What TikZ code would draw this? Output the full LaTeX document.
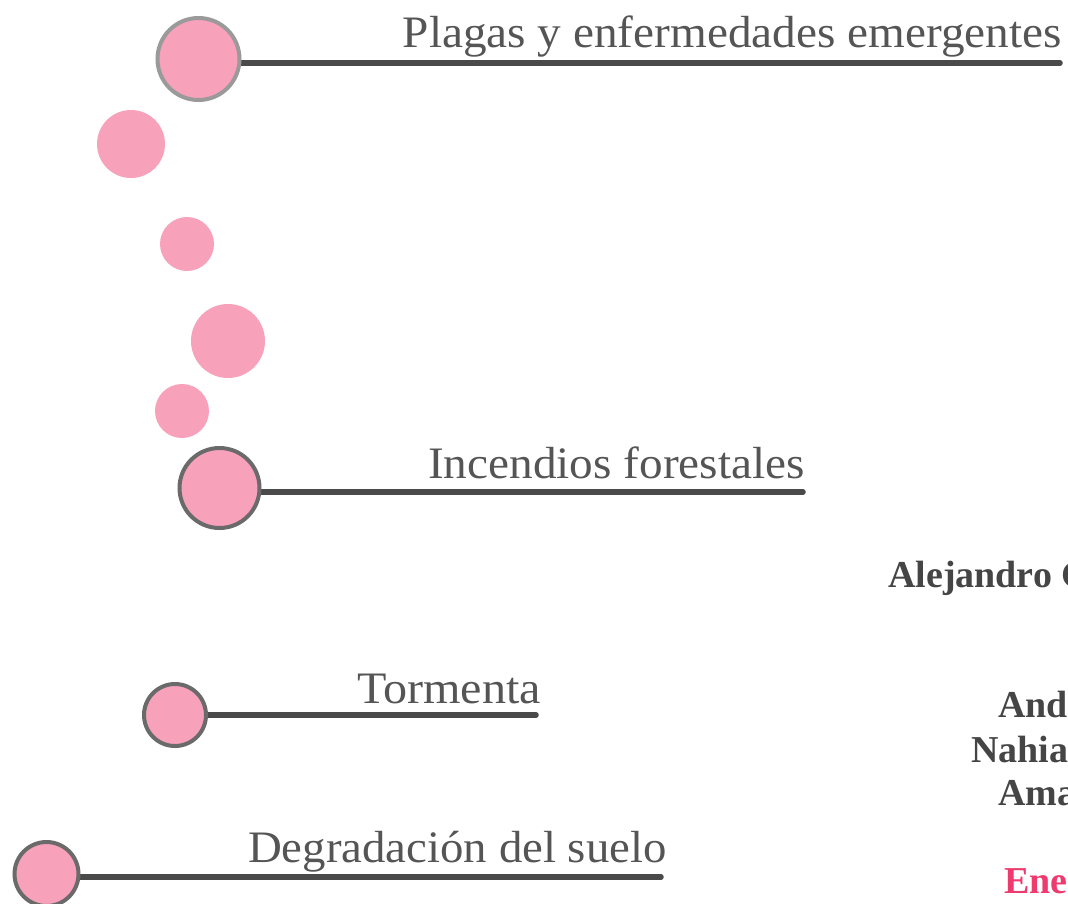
\documentclass[tikz,border=0pt]{standalone}
\usepackage{fontspec}
\setmainfont{Liberation Serif}
\usetikzlibrary{backgrounds}
\definecolor{pinkfill}{HTML}{F7A1BA}
\definecolor{linegray}{HTML}{4A4A4A}
\definecolor{textgray}{HTML}{555555}
\definecolor{boldgray}{HTML}{454545}
\definecolor{lightrim}{HTML}{9A9A9A}
\definecolor{darkrim}{HTML}{6A6A6A}
\definecolor{accentpink}{HTML}{EE3A6E}
\tikzset{
  bigdot/.style={circle, fill=pinkfill, draw=darkrim, line width=4pt, inner sep=0pt, minimum size=#1},
  softdot/.style={circle, fill=pinkfill, inner sep=0pt, minimum size=#1},
  stem/.style={draw=linegray, line width=5.5pt, line cap=round},
  risklabel/.style={inner sep=0pt, text=textgray, font=\fontsize{45}{50}\selectfont},
  persontext/.style={inner sep=0pt, text=boldgray, font=\fontsize{38}{44}\selectfont\bfseries},
}
\begin{document}
\begin{tikzpicture}[x=1pt, y=-1pt]
\useasboundingbox (0,0) rectangle (1068,903);
\clip (0,0) rectangle (1068,903);
% big circles with stems
\node[bigdot=82pt, draw=lightrim] (c1) at (198.5,59) {};
\coordinate (e1) at (1060,63);
\node[bigdot=80pt] (c2) at (219.5,488) {};
\coordinate (e2) at (803,492);
\node[bigdot=62pt] (c3) at (175,715) {};
\coordinate (e3) at (536,715);
\node[bigdot=64pt] (c4) at (46.5,874) {};
\coordinate (e4) at (661,877);
\begin{pgfonlayer}{background}
\draw[stem] (c1.center |- e1) -- (e1);
\draw[stem] (c2.center |- e2) -- (e2);
\draw[stem] (c3.center |- e3) -- (e3);
\draw[stem] (c4.center |- e4) -- (e4);
\end{pgfonlayer}
% small dots
\node[softdot=68pt] (d1) at (131,144) {};
\node[softdot=54pt] (d2) at (187,244) {};
\node[softdot=74pt] (d3) at (228,341) {};
\node[softdot=54pt] (d4) at (182,411) {};
% labels
\node[risklabel, anchor=base east] (t1) at (1062,47) {\scalebox{1.05}[1]{Plagas y enfermedades emergentes}};
\node[risklabel, anchor=base east] (t2) at (805,478) {\scalebox{1.05}[1]{Incendios forestales}};
\node[risklabel, anchor=base west] (t3) at (357,703) {\scalebox{1.07}[1]{Tormenta}};
\node[risklabel, anchor=base west] (t4) at (248,862) {\scalebox{1.04}[1]{Degradación del suelo}};
% names
\node[persontext, anchor=base west] (n1) at (888,587) {Alejandro G};
\node[persontext, anchor=base west] (n2) at (998,717) {Ander};
\node[persontext, anchor=base west] (n3) at (971,762) {Nahia};
\node[persontext, anchor=base west] (n4) at (998,805) {Amaia};
\node[persontext, anchor=base west, text=accentpink] (n5) at (1004,893) {Enero};
\end{tikzpicture}
\end{document}
